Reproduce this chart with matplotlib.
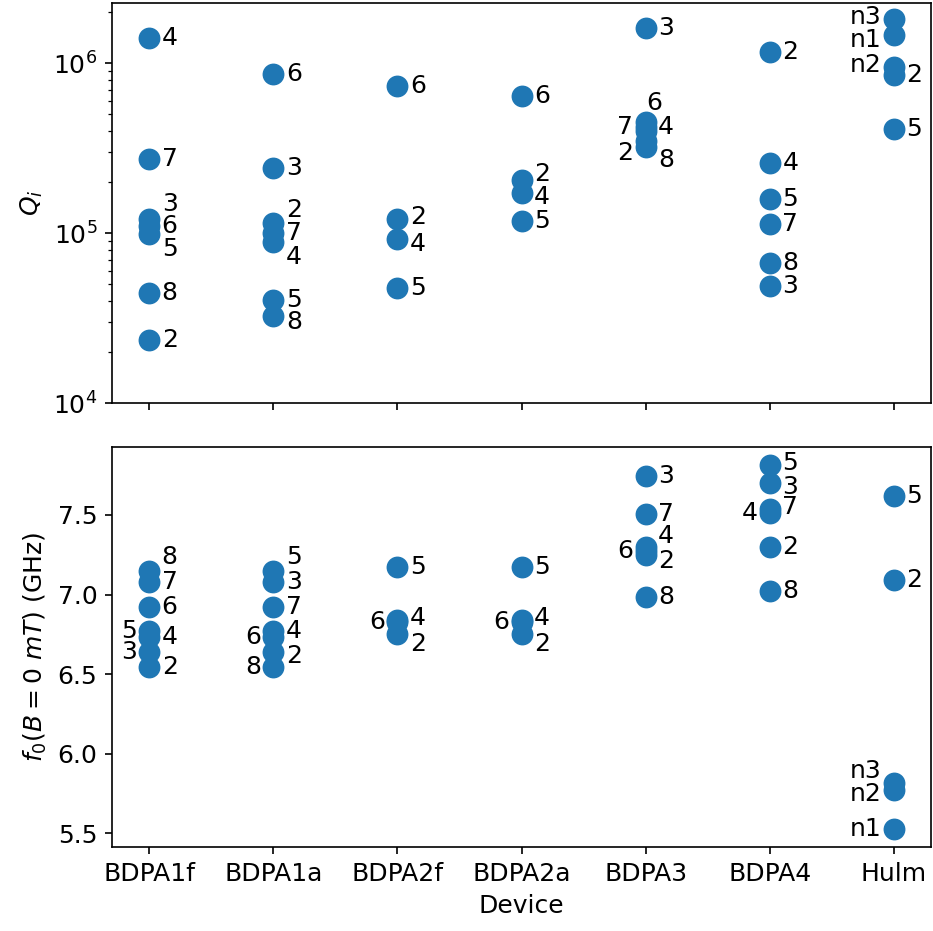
import matplotlib
matplotlib.use("Agg")
import matplotlib.pyplot as plt
import numpy as np

plt.rcParams['font.size'] = 12

# ============ DATA ============

devices = ['BDPA1f', 'BDPA1a', 'BDPA2f', 'BDPA2a', 'BDPA3', 'BDPA4', 'Hulm']

# internal quality factor per resonator
q_labels = {
    'BDPA1f': ['4', '7', '3', '6', '5', '8', '2'],
    'BDPA1a': ['6', '3', '2', '7', '4', '5', '8'],
    'BDPA2f': ['6', '2', '4', '5'],
    'BDPA2a': ['6', '2', '4', '5'],
    'BDPA3':  ['3', '6', '4', '7', '2', '8'],
    'BDPA4':  ['2', '4', '5', '7', '8', '3'],
    'Hulm':   ['n3', 'n1', 'n2', '2', '5'],
}
q_values = {
    'BDPA1f': [1.40e6, 2.72e5, 1.22e5, 1.10e5, 9.9e4, 4.44e4, 2.35e4],
    'BDPA1a': [8.6e5, 2.41e5, 1.15e5, 1.0e5, 8.85e4, 4.04e4, 3.25e4],
    'BDPA2f': [7.33e5, 1.21e5, 9.2e4, 4.75e4],
    'BDPA2a': [6.4e5, 2.05e5, 1.72e5, 1.18e5],
    'BDPA3':  [1.61e6, 4.51e5, 4.22e5, 3.99e5, 3.49e5, 3.21e5],
    'BDPA4':  [1.16e6, 2.58e5, 1.58e5, 1.13e5, 6.66e4, 4.88e4],
    'Hulm':   [1.82e6, 1.46e6, 9.47e5, 8.5e5, 4.09e5],
}

# resonance frequency at zero field (GHz)
f_labels = {
    'BDPA1f': ['8', '7', '6', '5', '4', '3', '2'],
    'BDPA1a': ['5', '3', '7', '4', '6', '2', '8'],
    'BDPA2f': ['5', '4', '6', '2'],
    'BDPA2a': ['5', '4', '6', '2'],
    'BDPA3':  ['3', '7', '4', '6', '2', '8'],
    'BDPA4':  ['5', '3', '7', '4', '2', '8'],
    'Hulm':   ['5', '2', 'n3', 'n2', 'n1'],
}
f_values = {
    'BDPA1f': [7.147, 7.077, 6.92, 6.769, 6.736, 6.64, 6.543],
    'BDPA1a': [7.147, 7.077, 6.92, 6.769, 6.736, 6.64, 6.543],
    'BDPA2f': [7.174, 6.84, 6.83, 6.753],
    'BDPA2a': [7.174, 6.84, 6.83, 6.753],
    'BDPA3':  [7.744, 7.503, 7.30, 7.275, 7.25, 6.983],
    'BDPA4':  [7.813, 7.702, 7.54, 7.515, 7.30, 7.025],
    'Hulm':   [7.618, 7.09, 5.816, 5.774, 5.528],
}

# label placement (offset points), default is right of the marker
q_offsets = {
    ('BDPA1f', '3'): (6, 7), ('BDPA1f', '5'): (6, -7),
    ('BDPA1a', '2'): (6, 6), ('BDPA1a', '4'): (6, -7), ('BDPA1a', '8'): (6, -3),
    ('BDPA2f', '2'): (6, 1), ('BDPA2f', '4'): (6, -2),
    ('BDPA2a', '2'): (6, 3), ('BDPA2a', '4'): (6, -2),
    ('BDPA3', '6'): (4, 9), ('BDPA3', '7'): (-6, 2), ('BDPA3', '2'): (-6, -6),
    ('BDPA3', '8'): (6, -6),
    ('Hulm', 'n3'): (-6, 1), ('Hulm', 'n1'): (-6, -2), ('Hulm', 'n2'): (-6, 1),
}
f_offsets = {
    ('BDPA1f', '8'): (6, 7), ('BDPA1f', '5'): (-6, 0), ('BDPA1f', '3'): (-6, 0),
    ('BDPA1a', '5'): (6, 7), ('BDPA1a', '6'): (-6, 0), ('BDPA1a', '8'): (-6, 0),
    ('BDPA1a', '2'): (6, -2),
    ('BDPA2f', '6'): (-6, 0), ('BDPA2f', '4'): (6, 1), ('BDPA2f', '2'): (6, -5),
    ('BDPA2a', '6'): (-6, 0), ('BDPA2a', '4'): (6, 1), ('BDPA2a', '2'): (6, -5),
    ('BDPA3', '4'): (6, 5), ('BDPA3', '6'): (-6, 0), ('BDPA3', '2'): (6, -3),
    ('BDPA4', '5'): (6, 1), ('BDPA4', '3'): (6, -2),
    ('BDPA4', '4'): (-6, 0), ('BDPA4', '7'): (6, 1),
    ('Hulm', 'n3'): (-6, 6), ('Hulm', 'n2'): (-6, -2), ('Hulm', 'n1'): (-6, 0),
}


def draw(ax, labels, values, offsets):
    for i, dev in enumerate(devices):
        vals = values[dev]
        ax.scatter(np.full(len(vals), i), vals, s=90, color='#1f77b4', zorder=3)
        for lab, v in zip(labels[dev], vals):
            dx, dy = offsets.get((dev, lab), (6, 0))
            if dx < 0:
                ha = 'right'
            elif dx < 6:
                ha = 'center'
            else:
                ha = 'left'
            ax.annotate(lab, (i, v), xytext=(dx, dy), textcoords='offset points',
                        ha=ha, va='center', fontsize=12)


fig = plt.figure(figsize=(933 / 150, 931 / 150), dpi=150)
ax1 = fig.add_axes([0.120, 0.567, 0.878, 0.4297])
ax2 = fig.add_axes([0.120, 0.0902, 0.878, 0.4297], sharex=ax1)

draw(ax1, q_labels, q_values, q_offsets)
ax1.set_yscale('log')
ax1.set_ylim(bottom=1e4)
ax1.set_ylabel(r'$Q_i$')
ax1.tick_params(labelbottom=False)

draw(ax2, f_labels, f_values, f_offsets)
ax2.set_ylabel(r'$f_0(B=0\ mT)$ (GHz)')
ax2.set_xlabel('Device')
ax2.set_xticks(range(len(devices)))
ax2.set_xticklabels(devices)
ax2.set_xlim(-0.3, len(devices) - 1 + 0.3)

fig.savefig('out.png', dpi=150)
